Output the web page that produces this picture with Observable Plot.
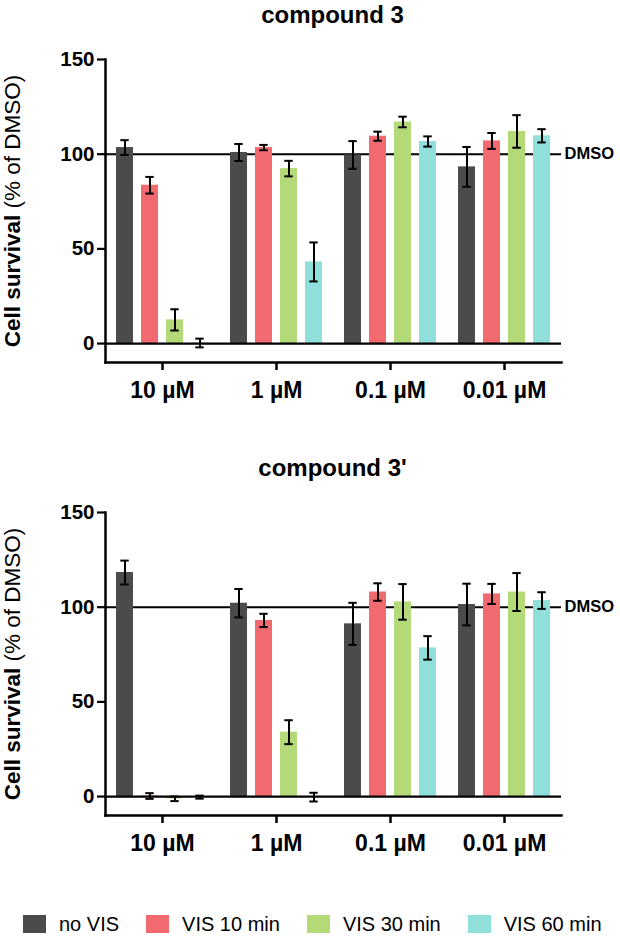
<!DOCTYPE html>
<html><head><meta charset="utf-8">
<script src="https://cdn.jsdelivr.net/npm/d3@7"></script>
<script src="https://cdn.jsdelivr.net/npm/@observablehq/plot@0.6"></script>
<style>
body{margin:0;background:#fff;font-family:"Liberation Sans",Arial,sans-serif;color:#000;}
.block{width:620px;height:453px;}
.title{height:30px;line-height:30px;text-align:center;font-weight:bold;font-size:24px;padding-left:104px;padding-right:59px;box-sizing:border-box;white-space:nowrap;}
.legend{display:flex;align-items:center;height:36px;padding-left:23px;font-size:20px;white-space:nowrap;width:620px;box-sizing:border-box;}
.item{display:flex;align-items:center;margin-right:27px;flex-shrink:0;}
.sw{width:23px;height:18px;margin-right:13px;flex-shrink:0;}
</style></head><body><div id="app"></div>
<script>
const concentrations = ["10 µM", "1 µM", "0.1 µM", "0.01 µM"];
const treatments = ["no VIS", "VIS 10 min", "VIS 30 min", "VIS 60 min"];
const colors = ["#4b4b4b", "#f06a6f", "#b3d979", "#8fdfda"];
const yTicks = [0, 50, 100, 150];
const refLines = [100];
const dmsoLabel = [{conc: "0.01 µM", y: 100, label: "DMSO"}];

// compound 3 : mean and error per treatment, in concentration order
const c3NoVis = [103.5, 100.9, 99.6, 93.3];
const c3NoVisErr = [3.9, 4.5, 7.3, 10.5];
const c3Vis10 = [83.6, 103.5, 109.5, 107.0];
const c3Vis10Err = [4.4, 1.4, 2.4, 4.2];
const c3Vis30 = [12.5, 92.4, 117.0, 112.0];
const c3Vis30Err = [5.6, 4.1, 2.8, 8.6];
const c3Vis60 = [0.3, 43.1, 106.7, 109.7];
const c3Vis60Err = [2.3, 10.3, 2.7, 3.5];

// compound 3'
const c3pNoVis = [118.3, 102.1, 91.2, 101.4];
const c3pNoVisErr = [6.3, 7.5, 11.1, 11.0];
const c3pVis10 = [0.3, 93.0, 108.0, 107.0];
const c3pVis10Err = [1.5, 3.5, 4.6, 5.3];
const c3pVis30 = [-1.2, 34.0, 102.8, 108.0];
const c3pVis30Err = [1.2, 6.3, 9.4, 10.0];
const c3pVis60 = [-0.3, -0.3, 78.5, 103.5];
const c3pVis60Err = [0.8, 2.3, 6.2, 4.4];

function rows(means, errs) {
  const out = [];
  treatments.forEach((t, j) => {
    concentrations.forEach((c, i) => {
      out.push({conc: c, treat: t, mean: means[j][i], err: errs[j][i]});
    });
  });
  return out;
}

const data3 = rows([c3NoVis, c3Vis10, c3Vis30, c3Vis60], [c3NoVisErr, c3Vis10Err, c3Vis30Err, c3Vis60Err]);
const data3p = rows([c3pNoVis, c3pVis10, c3pVis30, c3pVis60], [c3pNoVisErr, c3pVis10Err, c3pVis30Err, c3pVis60Err]);

function chart(title, data) {
  const block = document.createElement("div");
  block.className = "block";
  const t = document.createElement("div");
  t.className = "title";
  t.textContent = title;
  block.appendChild(t);
  const lo = d => d.mean - d.err, hi = d => d.mean + d.err;
  const svg = Plot.plot({
    width: 620, height: 423,
    marginTop: 29, marginLeft: 104, marginRight: 59, marginBottom: 91,
    style: {fontFamily: "Liberation Sans, Arial, sans-serif", background: "white", color: "black"},
    fx: {domain: concentrations, padding: 0, label: null},
    x: {domain: treatments, paddingInner: 0.33, paddingOuter: 0.445, axis: null},
    y: {domain: [-10, 150]},
    color: {domain: treatments, range: colors},
    marks: [
      Plot.ruleY(refLines, {strokeWidth: 2}),
      Plot.barY(data, {fx: "conc", x: "treat", y: "mean", fill: "treat"}),
      Plot.ruleX(data, {fx: "conc", x: "treat", y1: lo, y2: hi, strokeWidth: 2}),
      Plot.tickY(data, {fx: "conc", x: "treat", y: lo, insetLeft: 4.3, insetRight: 4.3, strokeWidth: 2}),
      Plot.tickY(data, {fx: "conc", x: "treat", y: hi, insetLeft: 4.3, insetRight: 4.3, strokeWidth: 2}),
      Plot.ruleY([0], {strokeWidth: 2.2}),
      Plot.frame({anchor: "bottom", facet: "super", strokeWidth: 2.5}),
      Plot.frame({anchor: "left", facet: "super", strokeWidth: 2.5}),
      Plot.axisY({ticks: yTicks, tickSize: 8, tickPadding: 3, fontSize: 20.5, fontWeight: "bold", strokeWidth: 2.2,
        label: "Cell survival (% of DMSO)", labelAnchor: "center", labelArrow: "none"}),
      Plot.axisFx({anchor: "bottom", tickSize: 8, tickPadding: 11, fontSize: 23, fontWeight: "bold", strokeWidth: 2.5, label: null}),
      Plot.text(dmsoLabel, {fx: "conc", y: "y", text: "label", frameAnchor: "right", textAnchor: "start", dx: 3, fontSize: 16.5, fontWeight: "bold"})
    ]
  });
  const lab = d3.select(svg).select('g[aria-label="y-axis label"] text');
  if (!lab.empty()) {
    lab.text(null).attr("font-size", 22.5);
    lab.append("tspan").attr("font-weight", "bold").text("Cell survival");
    lab.append("tspan").attr("font-weight", "normal").text(" (% of DMSO)");
  }
  block.appendChild(svg);
  return block;
}

const app = document.getElementById("app");
app.appendChild(chart("compound 3", data3));
app.appendChild(chart("compound 3'", data3p));

const legend = document.createElement("div");
legend.className = "legend";
treatments.forEach((t, i) => {
  const it = document.createElement("div");
  it.className = "item";
  const sw = document.createElement("div");
  sw.className = "sw";
  sw.style.background = colors[i];
  const tx = document.createElement("span");
  tx.textContent = t;
  it.appendChild(sw); it.appendChild(tx);
  legend.appendChild(it);
});
app.appendChild(legend);
</script></body></html>
